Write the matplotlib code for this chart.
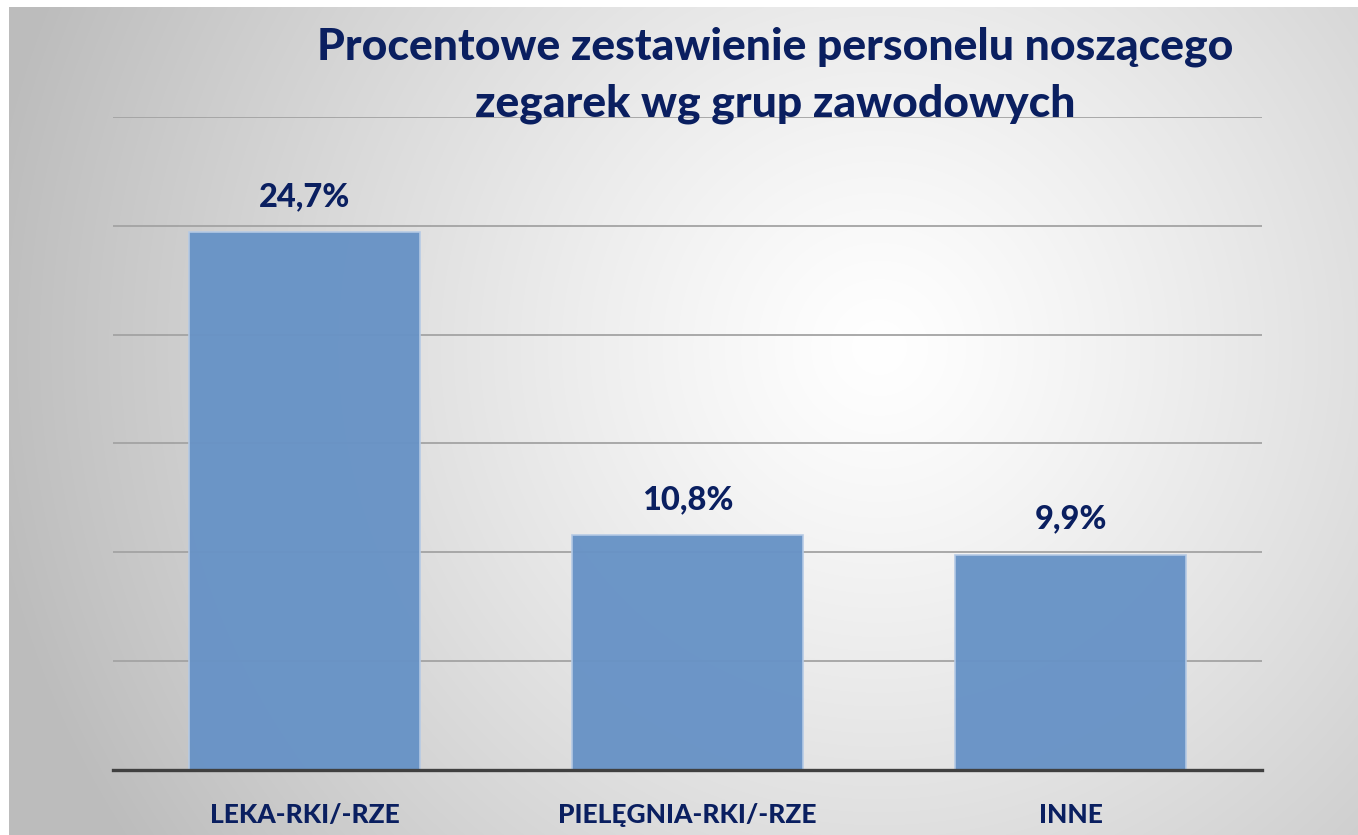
import numpy as np
import matplotlib
matplotlib.use("Agg")
import matplotlib.pyplot as plt

categories = ["LEKA-RKI/-RZE", "PIELĘGNIA-RKI/-RZE", "INNE"]
values = [24.7, 10.8, 9.9]
value_labels = ["24,7%", "10,8%", "9,9%"]
title_lines = "Procentowe zestawienie personelu noszącego\nzegarek wg grup zawodowych"

W, H = 1358, 835
fig = plt.figure(figsize=(W / 100, H / 100), dpi=100)
fig.patch.set_facecolor("white")

# background gradient panel
bg = fig.add_axes([9 / W, 0, (W - 9) / W, (H - 7) / H])
bg.set_axis_off()
yy, xx = np.mgrid[0:H - 7, 0:W - 9]
cx, cy = 870, 340
r = np.sqrt((xx - cx) ** 2 + (yy - cy) ** 2) / 900.0
r = np.clip(r, 0, 1)
g = 1.0 - 0.26 * r ** 1.2
bg.imshow(np.dstack([g, g, g]), aspect="auto", interpolation="bilinear")

navy = "#0A1F60"
fam = ["Lato", "DejaVu Sans"]
ax = fig.add_axes([113 / W, (H - 770) / H, (1262 - 113) / W, (770 - 117) / H])
ax.set_facecolor("none")
x = np.arange(len(categories))
ax.bar(x, values, width=0.603, color="#6893C6", alpha=0.97,
       edgecolor="#B5CAE5", linewidth=1.2, zorder=3)
ax.set_xlim(-0.5, 2.5)
ax.set_ylim(0, 30)
ax.set_yticks([5, 10, 15, 20, 25, 30])
ax.yaxis.grid(True, color="#A3A3A3", linewidth=1.3, zorder=1)
ax.set_axisbelow(True)
ax.tick_params(axis="y", left=False, labelleft=False)
ax.tick_params(axis="x", bottom=False, pad=20)
ax.set_xticks(x)
ax.set_xticklabels(categories, fontsize=19, fontweight="black", color=navy,
                   family=fam)
for s in ["left", "right", "top"]:
    ax.spines[s].set_visible(False)
ax.spines["bottom"].set_color("#404040")
ax.spines["bottom"].set_linewidth(2.4)
ax.spines["bottom"].set_zorder(4)

for xi, v, lab in zip(x, values, value_labels):
    ax.annotate(lab, (xi, v), xytext=(0, 15), textcoords="offset points",
                ha="center", va="bottom", fontsize=23.5, fontweight="black",
                color=navy, family=fam)

fig.text(775 / W, 1 - 75 / H, title_lines, ha="center", va="center",
         fontsize=32, fontweight="black", color=navy, linespacing=1.5,
         family=fam)

fig.savefig("out.png", dpi=100)
